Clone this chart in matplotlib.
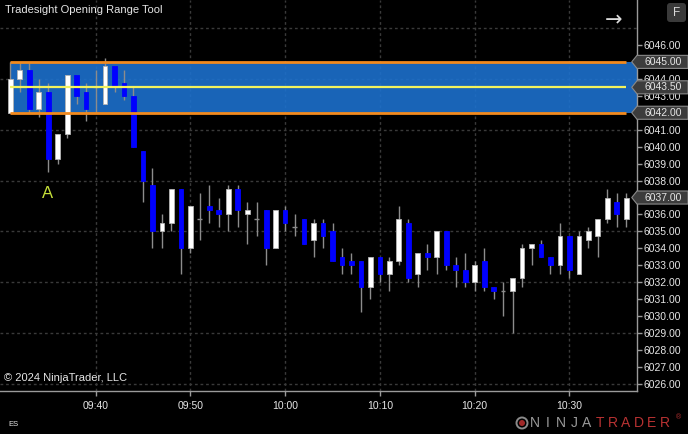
import matplotlib
matplotlib.use("Agg")
import matplotlib.pyplot as plt
import matplotlib.dates as mdates
import numpy as np
import pandas as pd
from matplotlib.patches import Rectangle, Polygon, FancyBboxPatch, Circle
from matplotlib.ticker import FormatStrFormatter

plt.rcParams['font.family'] = ['Liberation Sans', 'DejaVu Sans']

# --- 1 minute ES bars, 09:31 .. 10:36 --- #
times = pd.date_range("2024-12-16 09:31", periods=66, freq="min")
opens = [6042.0, 6044.0, 6044.5, 6042.25, 6043.25, 6039.25, 6040.75, 6044.25, 6043.25, 6043.5,
         6042.5, 6044.75, 6043.75, 6043.0, 6039.75, 6037.75, 6035.0, 6035.5, 6037.5, 6034.0,
         6035.75, 6036.5, 6036.25, 6036.0, 6037.5, 6036.0, 6035.75, 6036.25, 6034.0, 6036.25,
         6035.25, 6035.75, 6034.5, 6035.5, 6035.0, 6033.5, 6033.25, 6033.25, 6031.75, 6033.5,
         6032.5, 6033.25, 6035.5, 6032.5, 6033.75, 6033.5, 6035.0, 6033.0, 6032.75, 6032.0,
         6033.25, 6031.75, 6031.5, 6031.5, 6032.25, 6034.0, 6034.25, 6033.5, 6033.0, 6034.75,
         6032.5, 6034.5, 6034.75, 6035.75, 6036.75, 6035.75]
highs = [6045.0, 6045.0, 6045.0, 6044.0, 6043.75, 6040.75, 6044.25, 6044.25, 6043.75, 6044.5,
         6045.25, 6044.75, 6044.5, 6043.5, 6039.75, 6038.75, 6036.0, 6037.5, 6037.5, 6036.5,
         6037.25, 6037.75, 6037.0, 6037.75, 6037.75, 6036.75, 6036.75, 6036.25, 6036.25, 6036.5,
         6036.0, 6035.75, 6035.75, 6035.75, 6035.5, 6034.0, 6033.75, 6033.25, 6033.5, 6033.5,
         6033.5, 6036.5, 6035.75, 6033.75, 6034.25, 6035.0, 6035.0, 6033.5, 6033.75, 6033.25,
         6034.0, 6031.75, 6032.0, 6032.25, 6034.25, 6034.25, 6034.5, 6033.5, 6035.5, 6034.75,
         6035.0, 6035.25, 6035.75, 6037.5, 6037.25, 6037.25]
lows = [6042.0, 6043.25, 6042.0, 6041.75, 6038.5, 6039.0, 6040.5, 6042.5, 6041.5, 6042.0,
        6042.5, 6043.25, 6042.75, 6040.0, 6036.75, 6034.0, 6034.0, 6035.0, 6032.5, 6033.75,
        6034.5, 6035.5, 6035.25, 6035.0, 6035.25, 6034.25, 6034.75, 6033.0, 6034.0, 6035.0,
        6034.75, 6034.25, 6033.5, 6034.0, 6033.25, 6032.5, 6032.5, 6030.25, 6031.0, 6032.0,
        6031.5, 6033.0, 6032.0, 6031.75, 6032.75, 6032.5, 6032.75, 6031.75, 6031.75, 6031.5,
        6031.5, 6031.0, 6030.0, 6029.0, 6031.75, 6033.0, 6033.5, 6032.5, 6032.5, 6032.25,
        6032.5, 6034.0, 6033.5, 6035.5, 6035.25, 6035.25]
closes = [6044.0, 6044.5, 6042.25, 6043.25, 6039.25, 6040.75, 6044.25, 6043.0, 6042.25, 6043.5,
          6044.75, 6043.5, 6043.0, 6040.0, 6038.0, 6035.0, 6035.5, 6037.5, 6034.0, 6036.5,
          6035.75, 6036.25, 6036.0, 6037.5, 6036.25, 6036.25, 6035.75, 6034.0, 6036.25, 6035.5,
          6035.25, 6034.25, 6035.5, 6034.75, 6033.25, 6033.0, 6033.0, 6031.75, 6033.5, 6032.5,
          6033.25, 6035.75, 6032.25, 6033.75, 6033.5, 6035.0, 6033.0, 6032.75, 6032.0, 6033.0,
          6031.75, 6031.5, 6031.5, 6032.25, 6034.0, 6034.25, 6033.5, 6033.0, 6034.75, 6032.75,
          6034.75, 6035.0, 6035.75, 6037.0, 6036.0, 6037.0]

# opening range levels
or_high = 6045.0
or_low = 6042.0
or_mid = 6043.5
ylevels = np.arange(6026, 6047, 1)
xtick_times = pd.to_datetime(["2024-12-16 09:40", "2024-12-16 09:50", "2024-12-16 10:00",
                              "2024-12-16 10:10", "2024-12-16 10:20", "2024-12-16 10:30"])

# --- colours --- #
up_col = "#ffffff"
down_col = "#0000ff"
wick_col = "#8c8c8c"
grid_col = "#3a3a3a"
txt_col = "#e6e6e6"

fig = plt.figure(figsize=(6.88, 4.34), dpi=100, facecolor="black")
ax = fig.add_axes([0, 43/434, 637/688, 391/434], facecolor="black")

x = mdates.date2num(times.to_pydatetime())
one_min = 1.0 / 1440
o = np.array(opens); h = np.array(highs); l = np.array(lows); c = np.array(closes)

# wicks
ax.vlines(x, l, h, colors=wick_col, linewidth=1, zorder=3)
# bodies
up = c > o
dn = c < o
dj = c == o
ax.bar(x[up], (c - o)[up], bottom=o[up], width=0.5 * one_min, color=up_col,
       edgecolor="#b4b4b4", linewidth=0.6, zorder=4)
ax.bar(x[dn], (o - c)[dn], bottom=c[dn], width=0.5 * one_min, color=down_col,
       edgecolor=down_col, linewidth=0.6, zorder=4)
ax.hlines(c[dj], x[dj] - 0.25 * one_min, x[dj] + 0.25 * one_min, colors=wick_col,
          linewidth=1, zorder=4)

xl = (x[0] - 1.087 * one_min, x[0] + 66.13 * one_min)
ax.set_xlim(xl)
ax.set_ylim(6025.59, 6048.65)

# --- opening range box --- #
ax.add_patch(Rectangle((x[0], or_low), xl[1] - x[0], or_high - or_low,
                       facecolor="#1c70cc", alpha=0.9, edgecolor="none", zorder=2))
ax.hlines([or_high, or_low], x[0], x[-1], colors="#f28a1e", linewidth=2, zorder=5)
ax.hlines(or_mid, x[0], x[-1], colors="#f2f25c", linewidth=1.6, zorder=5)

# grid
for g in np.arange(6026, 6048, 3):
    ax.axhline(g, color=grid_col, linewidth=1, linestyle=(0, (2, 2)), zorder=1)
ax.set_xticks(mdates.date2num(xtick_times.to_pydatetime()))
ax.xaxis.set_major_formatter(mdates.DateFormatter("%H:%M"))
ax.grid(axis="x", color=grid_col, linewidth=1, linestyle=(0, (2, 2)), zorder=1)
ax.set_axisbelow(True)

# axes styling
ax.yaxis.tick_right()
ax.set_yticks(ylevels)
ax.yaxis.set_major_formatter(FormatStrFormatter("%.2f"))
for s in ["left", "top"]:
    ax.spines[s].set_visible(False)
for s in ["right", "bottom"]:
    ax.spines[s].set_color("#9a9a9a")
    ax.spines[s].set_linewidth(1)
ax.tick_params(axis="y", colors="#9a9a9a", labelcolor=txt_col, length=3.5, width=1,
               pad=1.5, labelsize=7.5)
ax.tick_params(axis="x", colors="#9a9a9a", labelcolor=txt_col, length=3.5, width=1,
               pad=3.5, labelsize=7.5)

# price markers on the axis
markers = [or_high, or_mid, or_low, closes[-1]]
tr = ax.get_yaxis_transform()
hh = 0.385
for p in markers:
    poly = Polygon([(0.9917, p), (1.0, p + hh), (1.0801, p + hh), (1.0801, p - hh), (1.0, p - hh)],
                   closed=True, transform=tr, clip_on=False, facecolor="#3c3c3c",
                   edgecolor="#8a8a8a", linewidth=0.8, zorder=6)
    ax.add_patch(poly)
    ax.text(1.041, p, "%.2f" % p, transform=tr, ha="center", va="center",
            color=txt_col, fontsize=7.5, zorder=7, clip_on=False)

# "A" label under the 09:35 bar
ax.annotate("A", xy=(x[4], lows[4]), xytext=(-1, -21), textcoords="offset pixels",
            ha="center", va="center", color="#c6e03a", fontsize=12, zorder=6)

# --- chart texts --- #
def px(xp, yp):
    return xp / 688.0, 1 - yp / 434.0

fig.text(*px(5, 10), "Tradesight Opening Range Tool", color=txt_col, fontsize=8,
         ha="left", va="center")
fig.text(*px(4, 378), "\u00a9 2024 NinjaTrader, LLC", color=txt_col, fontsize=8,
         ha="left", va="center", zorder=8)
fig.text(*px(8, 424), "ES", color=txt_col, fontsize=5.5, ha="left", va="center")
fig.text(*px(614, 20), "\u2192", color="#dcdcdc", fontsize=15, ha="center", va="center",
         family="DejaVu Sans")
fig.add_artist(FancyBboxPatch((667 / 100, (434 - 22) / 100), 0.19, 0.19,
                              boxstyle="round,pad=0,rounding_size=0.03",
                              transform=fig.dpi_scale_trans, facecolor="#3a3a3a",
                              edgecolor="none"))
fig.text(*px(676.5, 12.5), "F", color="#d8d8d8", fontsize=8.5, ha="center", va="center")

# NinjaTrader logo
fig.add_artist(Circle((522 / 100, (434 - 423) / 100), 0.055, transform=fig.dpi_scale_trans,
                      facecolor="none", edgecolor="#8a8a8a", linewidth=1.4))
fig.add_artist(Circle((522 / 100, (434 - 423) / 100), 0.03, transform=fig.dpi_scale_trans,
                      facecolor="#a02828", edgecolor="none"))
for k, ch in enumerate("NINJATRADER"):
    fig.text(*px(535 + k * 13.0, 423), ch, color="#9a9a9a" if k < 5 else "#b83232",
             fontsize=10, ha="center", va="center")
fig.text(*px(678, 418), "\u00ae", color="#b83232", fontsize=5, ha="center", va="center")

fig.savefig("out.png", dpi=100, facecolor="black")
